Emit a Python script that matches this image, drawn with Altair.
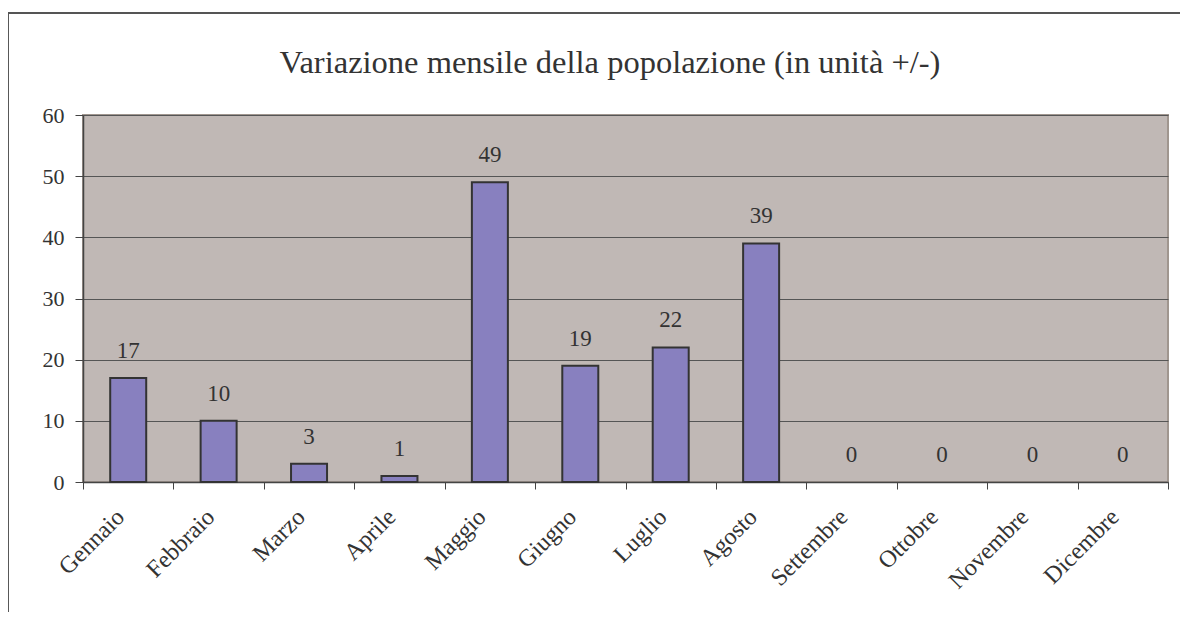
import altair as alt
import pandas as pd

months = ["Gennaio", "Febbraio", "Marzo", "Aprile", "Maggio", "Giugno",
          "Luglio", "Agosto", "Settembre", "Ottobre", "Novembre", "Dicembre"]
values = [17, 10, 3, 1, 49, 19, 22, 39, 0, 0, 0, 0]
y_ticks = [0, 10, 20, 30, 40, 50, 60]
title_text = "Variazione mensile della popolazione (in unità +/-)"

df = pd.DataFrame({"mese": months, "valore": values})

FONT = "Liberation Serif, Times New Roman, Times, DejaVu Serif, serif"
TXT = "#333333"

x_enc = alt.X("mese:N", sort=months, title=None,
              scale=alt.Scale(paddingInner=0, paddingOuter=0),
              axis=alt.Axis(labelAngle=-45, labelAlign="right", labelBaseline="middle",
                            labelFont=FONT, labelFontSize=24, labelColor=TXT,
                            labelPadding=24, labelOffset=-8, tickSize=7, tickColor="#444444",
                            tickBand="extent", domainColor="#444444", domainWidth=1.5,
                            grid=False, labelLimit=250))
y_enc = alt.Y("valore:Q", title=None,
              scale=alt.Scale(domain=[0, 60], nice=False),
              axis=alt.Axis(values=y_ticks, labelFont=FONT, labelFontSize=22,
                            labelColor=TXT, labelPadding=11, tickSize=8,
                            tickColor="#444444", domainColor="#444444", domainWidth=1.5,
                            grid=True, gridColor="#555555", gridWidth=1))

base = alt.Chart(df)

bars = base.transform_filter("datum.valore > 0").mark_bar(
    size=36, color="#8880BF", stroke="#333333", strokeWidth=2
).encode(x=x_enc, y=y_enc)

labels = base.mark_text(
    font=FONT, fontSize=23, color=TXT, dy=-27, baseline="middle"
).encode(x=alt.X("mese:N", sort=months), y="valore:Q", text="valore:Q")

title = alt.Chart(pd.DataFrame({"t": [title_text]})).mark_text(
    font=FONT, fontSize=32.5, color=TXT, baseline="alphabetic", align="center"
).encode(x=alt.value(527), y=alt.value(-42), text="t:N")

frame = base.mark_rect(
    fill=None, filled=False, stroke="#555555", strokeWidth=1.5
).encode(x=alt.value(-75.5), x2=alt.value(1200), y=alt.value(-102), y2=alt.value(700))

chart = alt.layer(frame, bars, labels, title).properties(
    width=1085, height=367,
    background="white",
    autosize=alt.AutoSizeParams(type="none"),
    padding={"left": 75, "top": 107, "right": 12, "bottom": 130},
).configure_view(
    fill="#C0B8B5", stroke="#A0968F", strokeWidth=2
)

chart.save("out.html", embed_options={"renderer": "svg", "actions": False})
